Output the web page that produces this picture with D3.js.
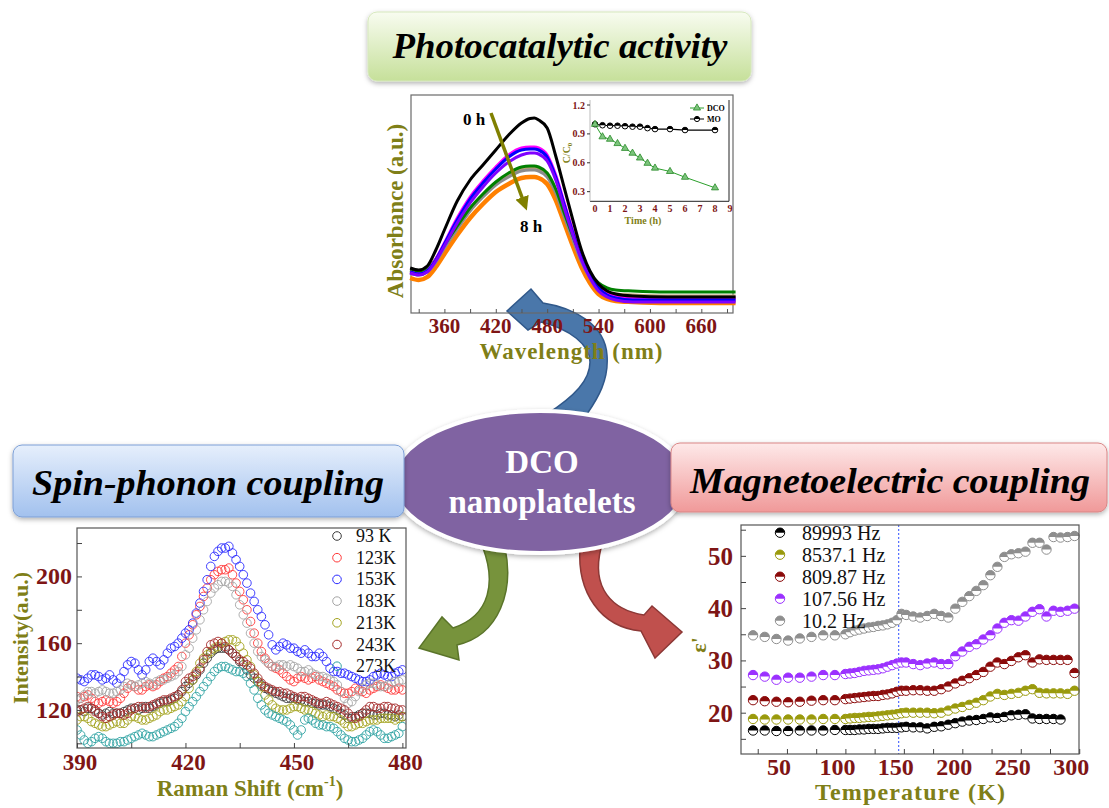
<!DOCTYPE html>
<html>
<head>
<meta charset="utf-8">
<title>DCO nanoplatelets</title>
<script src="https://cdn.jsdelivr.net/npm/d3@7/dist/d3.min.js"></script>
<style>
  body { margin: 0; background: #ffffff; }
  svg { display: block; font-family: "Liberation Serif", "Times New Roman", serif; }
</style>
</head>
<body>
<div id="figure"></div>
<script>
// ---------- photocatalytic activity: absorbance spectra ----------
var wavelength = [320,330,340,350,360,375,390,405,420,435,450,460,465,470,480,490,500,510,520,530,540,550,560,580,620,700];
var abs0h     = [0.45,0.43,0.47,0.63,0.83,1.12,1.33,1.48,1.63,1.78,1.90,1.945,1.95,1.93,1.85,1.57,1.25,0.93,0.63,0.42,0.29,0.22,0.19,0.17,0.16,0.16];
var absMagenta= [0.41,0.39,0.42,0.54,0.70,0.95,1.16,1.32,1.46,1.58,1.65,1.66,1.66,1.65,1.58,1.38,1.10,0.82,0.57,0.38,0.26,0.20,0.17,0.15,0.14,0.14];
var absBlue   = [0.41,0.39,0.42,0.53,0.69,0.93,1.14,1.30,1.44,1.56,1.63,1.64,1.64,1.63,1.56,1.36,1.08,0.80,0.55,0.37,0.25,0.18,0.15,0.13,0.13,0.13];
var absPurple = [0.40,0.38,0.41,0.52,0.67,0.90,1.10,1.26,1.40,1.51,1.58,1.60,1.60,1.59,1.52,1.33,1.05,0.78,0.53,0.35,0.22,0.16,0.13,0.11,0.11,0.11];
var absGreen  = [0.43,0.41,0.44,0.54,0.68,0.87,1.05,1.19,1.31,1.40,1.46,1.47,1.47,1.46,1.40,1.24,1.00,0.77,0.56,0.40,0.30,0.25,0.23,0.22,0.21,0.21];
var absTan    = [0.42,0.40,0.43,0.53,0.67,0.86,1.04,1.18,1.30,1.38,1.44,1.45,1.45,1.44,1.38,1.22,0.98,0.75,0.53,0.37,0.26,0.21,0.19,0.18,0.17,0.17];
var absGray   = [0.40,0.38,0.41,0.51,0.65,0.84,1.02,1.16,1.28,1.36,1.42,1.43,1.43,1.42,1.36,1.20,0.96,0.73,0.51,0.35,0.24,0.19,0.17,0.16,0.15,0.15];
var absOrange = [0.35,0.33,0.36,0.46,0.59,0.78,0.95,1.09,1.21,1.29,1.35,1.36,1.36,1.35,1.29,1.13,0.90,0.67,0.46,0.30,0.19,0.14,0.12,0.11,0.10,0.10];
var absTicks = [330,360,390,420,450,480,510,540,570,600,630,660,690];
var absTickLabels = [360,420,480,540,600,660];

// inset: C/C0 against time
var timeH = [0,0.5,1,1.5,2,2.5,3,3.5,4,5,6,8];
var ratioDCO = [1.0,0.87,0.845,0.80,0.75,0.70,0.65,0.595,0.545,0.51,0.45,0.34];
var ratioMO  = [1.0,0.99,0.985,0.985,0.98,0.975,0.975,0.96,0.95,0.95,0.94,0.94];
var insetTimeTicks = [0,1,2,3,4,5,6,7,8,9];
var insetRatioTicks = [0.3,0.6,0.9,1.2];

// ---------- spin-phonon coupling: Raman spectra ----------
var ramanShift = [390,391,392,393,394,395,396,397,398,399,400,401,402,403,404,405,406,407,408,409,
                  410,411,412,413,414,415,416,417,418,419,420,421,422,423,424,425,426,427,428,429,
                  430,431,432,433,434,435,436,437,438,439,440,441,442,443,444,445,446,447,448,449,
                  450,451,452,453,454,455,456,457,458,459,460,461,462,463,464,465,466,467,468,469,
                  470,471,472,473,474,475,476,477,478,479,480];
var raman93K  = [120,120,119,121,121,120,118,117,118,119, 118,118,118,119,120,121,121,120,121,122,
                 121,122,123,124,125,125,126,127,129,131, 134,136,138,141,144,148,151,154,156,157,
                 157,157,156,154,152,149,147,144,141,139, 137,135,133,132,131,130,129,128,127,127,
                 127,126,126,125,125,124,124,123,123,123, 122,121,120,118,117,115,115,116,117,118,
                 118,118,117,117,118,118,117,117,116,117, 116];
var raman123K = [128,127,128,129,127,125,124,125,126,125, 124,125,127,130,133,135,134,132,132,134,
                 135,134,135,137,139,140,142,144,146,152, 160,165,171,177,182,188,193,198,201,203,
                 204,204,205,201,196,191,186,180,173,166, 160,155,151,148,146,145,144,142,140,138,
                 137,139,140,139,138,139,140,138,137,136, 135,134,132,131,130,130,131,133,132,131,
                 130,132,133,134,135,134,133,132,132,133, 132];
var raman153K = [139,138,137,139,141,141,140,138,139,141, 138,136,139,143,147,149,148,144,141,144,
                 149,151,149,147,150,154,157,158,160,163, 166,168,172,178,184,191,198,206,212,215,
                 217,217,218,214,210,206,201,196,190,185, 180,176,171,165,159,156,158,160,159,157,
                 157,155,154,156,154,152,152,154,152,149, 145,143,143,142,142,141,140,139,138,137,
                 137,138,140,141,142,141,140,140,142,143, 144];
var raman183K = [126,127,129,131,131,130,131,132,131,130, 130,131,132,134,136,135,134,135,136,137,
                 136,135,137,138,138,139,140,141,143,146, 153,157,163,168,174,180,185,190,193,195,
                 197,197,196,194,189,183,177,172,166,160, 155,152,150,148,146,146,147,147,146,147,
                 146,145,143,143,144,142,141,140,140,139, 138,137,135,131,127,124,125,128,131,133,
                 135,136,136,135,134,134,135,136,137,137, 138];
var raman213K = [114,116,116,115,113,112,111,110,110,111, 112,113,112,112,114,116,116,115,114,114,
                 115,116,117,119,120,120,121,122,123,125, 128,133,138,143,148,151,153,155,157,158,
                 160,161,162,162,161,158,154,150,146,141, 137,134,129,126,123,121,120,120,120,121,
                 122,122,121,120,120,119,118,117,116,117, 116,116,115,114,112,110,110,111,112,112,
                 113,114,114,114,115,115,115,115,114,115, 116];
var raman243K = [119,120,121,122,121,119,118,116,115,116, 117,118,118,117,118,120,121,122,122,121,
                 122,123,124,125,126,126,127,128,129,132, 137,139,140,142,145,150,155,159,160,161,
                 160,158,156,154,152,150,149,147,145,142, 139,136,134,133,132,131,131,130,130,129,
                 128,127,128,128,127,126,125,124,124,125, 124,123,122,121,120,118,116,115,116,118,
                 120,122,122,121,121,122,122,121,121,120, 120];
var raman273K = [108,105,102,100,101,103,104,103,101,100, 100,100,101,101,102,103,104,105,106,105,
                 104,104,105,106,107,108,109,110,112,115, 119,122,125,128,131,134,137,140,143,145,
                 146,146,145,144,143,143,142,140,136,132, 127,123,120,118,117,116,115,114,113,111,
                 108,105,108,114,115,114,112,111,111,110, 110,109,107,105,103,102,101,101,102,103,
                 105,107,108,107,105,103,103,104,105,106, 110];
var ramanLabels = ["93 K","123K","153K","183K","213K","243K","273K"];
var ramanTicks = [390,405,420,435,450,465,480];
var ramanTickLabels = [390,420,450,480];
var intensityTicks = [100,120,140,160,180,200,220];
var intensityTickLabels = [120,160,200];

// ---------- magnetoelectric coupling: dielectric constant ----------
var tempK = [21,31,41,51,61,71,81,91,100,104,108,112,116,120,124,128,132,136,140,144,148,152,158,164,170,176,182,188,194,200,206,212,218,224,230,236,242,248,254,260,266,272,278,284,290,296];
var eps89993 = [16.6,16.6,16.5,16.5,16.6,16.6,16.6,16.7,16.7,16.7,16.7,16.8,16.8,16.9,16.9,16.9,17.0,17.1,17.1,17.1,17.2,17.3,17.2,17.2,17.0,17.3,17.4,17.7,18.0,18.3,18.5,18.6,18.8,19.1,19.0,19.2,19.5,19.6,19.7,18.9,18.8,18.8,18.8,18.7,null,null];
var eps8537  = [18.8,18.7,18.7,18.7,18.7,18.7,18.8,18.8,18.8,18.9,19.0,19.0,19.1,19.2,19.2,19.3,19.4,19.5,19.6,19.7,19.9,20.0,20.0,20.0,20.0,19.9,20.0,20.4,20.8,21.1,21.5,21.9,22.4,23.1,23.6,23.4,23.6,23.8,24.2,24.5,23.8,23.7,23.7,23.7,23.6,24.2];
var eps809   = [22.4,22.2,22.1,22.0,22.1,22.3,22.4,22.4,22.6,22.7,22.8,22.9,23.0,23.1,23.2,23.2,23.4,23.5,23.7,24.0,24.2,24.2,24.3,24.3,24.2,24.2,24.5,25.0,25.6,26.1,26.6,27.2,27.8,28.8,29.6,29.3,29.9,30.6,31.0,29.6,30.2,30.1,30.1,30.1,30.1,27.6];
var eps107   = [27.2,26.9,26.3,26.7,26.7,26.9,27.2,27.2,27.4,27.5,27.6,27.8,28.0,28.1,28.2,28.3,28.5,28.8,29.1,29.4,29.6,29.6,29.3,29.1,29.4,29.6,29.3,29.3,30.8,31.7,32.6,33.1,34.0,34.8,36.1,37.2,37.7,37.6,38.4,39.3,39.8,38.4,39.5,39.3,39.5,39.9];
var eps10    = [34.8,34.5,34.1,33.8,34.2,34.5,34.8,34.8,35.0,35.4,35.7,35.9,36.1,36.3,36.4,36.6,36.7,36.9,37.2,37.7,38.9,38.7,38.4,38.2,38.5,38.9,38.5,38.2,39.9,41.2,42.3,43.3,44.4,46.3,47.9,49.8,50.3,50.5,50.8,52.5,52.5,51.2,53.6,53.5,53.6,53.8];
var freqLabels = ["89993 Hz","8537.1 Hz","809.87 Hz","107.56 Hz","10.2 Hz"];
var transitionK = 145.6;
var tempTicks = [25,50,75,100,125,150,175,200,225,250,275,300];
var tempTickLabels = [50,100,150,200,250,300];
var epsTicks = [15,20,25,30,35,40,45,50,55];
var epsTickLabels = [20,30,40,50];

// ---------------------------------------------------------------
var red = "#7e1515", olive = "#7f7f18";

var svg = d3.select("#figure").append("svg")
    .attr("width", 1109).attr("height", 808)
    .attr("viewBox", "0 0 1109 808");
var defs = svg.append("defs");

function addGradient(id, top, bottom) {
    var g = defs.append("linearGradient").attr("id", id)
        .attr("x1", 0).attr("y1", 0).attr("x2", 0).attr("y2", 1);
    g.append("stop").attr("offset", "0%").attr("stop-color", top);
    g.append("stop").attr("offset", "100%").attr("stop-color", bottom);
}
addGradient("greenBox", "#f8fcf0", "#c6e09a");
addGradient("blueBox", "#e6effc", "#a2c1ee");
addGradient("redBox", "#fee9e9", "#f09999");

var shadow = defs.append("filter").attr("id", "shadow")
    .attr("x", "-10%").attr("y", "-20%").attr("width", "120%").attr("height", "150%");
shadow.append("feDropShadow").attr("dx", 0).attr("dy", 2).attr("stdDeviation", 2.5)
    .attr("flood-color", "#000").attr("flood-opacity", 0.3);

// curved arrows (behind everything)
var arrows = svg.append("g");
arrows.append("path")
    .attr("d", "M543,303 C575,308 605,325 607,355 C609,380 598,398 587,414 L547,414 C575,396 590,380 590,362 C590,345 570,329 541,322 L528,330 L507,311 L531,289 Z")
    .attr("fill", "#4a77aa").attr("stroke", "#30588a").attr("stroke-width", 1.5);
arrows.append("path")
    .attr("d", "M483,548 C495,580 492,615 453,628 L442,617 L419,648 L459,660 L457,645 C500,635 514,590 505,548 Z")
    .attr("fill", "#77933c").attr("stroke", "#5a7429").attr("stroke-width", 1.5);
arrows.append("path")
    .attr("d", "M580,548 C577,592 600,627 641,631 L655,658 L682,632 L652,606 L644,615 C612,610 591,588 601,548 Z")
    .attr("fill", "#c0504d").attr("stroke", "#8c3836").attr("stroke-width", 1.5);

// centre ellipse
svg.append("ellipse")
    .attr("cx", 540).attr("cy", 482).attr("rx", 147).attr("ry", 71)
    .attr("fill", "#8064a2").attr("stroke", "#ffffff").attr("stroke-width", 4)
    .attr("filter", "url(#shadow)");
svg.append("text").attr("x", 542).attr("y", 473).attr("text-anchor", "middle")
    .attr("fill", "#ffffff").attr("font-weight", "bold").attr("font-size", 33).text("DCO");
svg.append("text").attr("x", 542).attr("y", 513).attr("text-anchor", "middle")
    .attr("fill", "#ffffff").attr("font-weight", "bold").attr("font-size", 33).text("nanoplatelets");

// title boxes
function titleBox(x, y, w, h, fill, stroke, label, tx, ty, len) {
    svg.append("rect").attr("x", x).attr("y", y).attr("width", w).attr("height", h)
        .attr("rx", 9).attr("ry", 9)
        .attr("fill", fill).attr("stroke", stroke).attr("stroke-width", 1)
        .attr("filter", "url(#shadow)");
    svg.append("text").attr("x", tx).attr("y", ty).attr("text-anchor", "middle")
        .attr("font-weight", "bold").attr("font-style", "italic").attr("font-size", 35)
        .attr("textLength", len).attr("lengthAdjust", "spacingAndGlyphs")
        .attr("fill", "#000").text(label);
}
titleBox(368, 12, 383, 69, "url(#greenBox)", "#d6e8bd", "Photocatalytic activity", 560, 58, 335);
titleBox(13, 445, 391, 72, "url(#blueBox)", "#7c9fd6", "Spin-phonon coupling", 208, 495, 352);
titleBox(671, 443, 436, 69, "url(#redBox)", "#d98585", "Magnetoelectric coupling", 890, 493, 400);

// ---------- top chart ----------
var ax = d3.scaleLinear().domain([321, 697]).range([411, 733]);
var ay = d3.scaleLinear().domain([0, 2.18]).range([313, 95]);
var gTop = svg.append("g");

gTop.append("rect").attr("x", 411).attr("y", 95).attr("width", 322).attr("height", 218)
    .attr("fill", "none").attr("stroke", "#6a6a6a").attr("stroke-width", 1.2);

var spectra = [absOrange, absTan, absGray, absGreen, absMagenta, absBlue, absPurple, abs0h];
var spectraColors = ["#ff8000", "#c0a070", "#8c8c8c", "#008000", "#ff00ff", "#0000ff", "#8000ff", "#000000"];
var spectraWidth = [4.5, 3, 3, 3, 3, 3, 3, 3];
var specLine = d3.line()
    .x(function(d, i){ return ax(wavelength[i]); })
    .y(function(d){ return ay(d); })
    .curve(d3.curveMonotoneX);
gTop.selectAll(".spec").data(spectra).enter().append("path")
    .attr("class", "spec")
    .attr("d", specLine)
    .attr("fill", "none")
    .attr("stroke", function(d, i){ return spectraColors[i]; })
    .attr("stroke-width", function(d, i){ return spectraWidth[i]; });

gTop.append("g").attr("transform", "translate(0,313)")
    .call(d3.axisBottom(ax).tickValues(absTicks).tickSize(-4).tickFormat(""))
    .call(function(g){ g.select(".domain").remove(); g.selectAll("line").attr("stroke", "#555"); });
gTop.selectAll(".absLab").data(absTickLabels).enter().append("text")
    .attr("x", function(d){ return ax(d); }).attr("y", 333)
    .attr("text-anchor", "middle").attr("font-size", 21).attr("font-weight", "bold")
    .attr("fill", red).text(function(d){ return d; });
gTop.append("text").attr("x", 571).attr("y", 359).attr("text-anchor", "middle")
    .attr("font-size", 23).attr("font-weight", "bold").attr("fill", olive)
    .attr("textLength", 183).attr("lengthAdjust", "spacing").text("Wavelength (nm)");
gTop.append("text").attr("transform", "translate(403,211) rotate(-90)")
    .attr("text-anchor", "middle").attr("font-size", 23).attr("font-weight", "bold")
    .attr("fill", olive).text("Absorbance (a.u.)");

// time arrow
defs.append("marker").attr("id", "headOlive").attr("viewBox", "0 0 10 10")
    .attr("refX", 2).attr("refY", 5).attr("markerWidth", 4).attr("markerHeight", 4)
    .attr("orient", "auto")
    .append("path").attr("d", "M0,0 L10,5 L0,10 Z").attr("fill", "#808000");
gTop.append("line").attr("x1", 491).attr("y1", 113).attr("x2", 523).attr("y2", 200)
    .attr("stroke", "#808000").attr("stroke-width", 3.5).attr("marker-end", "url(#headOlive)");
gTop.append("text").attr("x", 463).attr("y", 125).attr("font-size", 17).attr("font-weight", "bold").text("0 h");
gTop.append("text").attr("x", 520).attr("y", 232).attr("font-size", 17).attr("font-weight", "bold").text("8 h");

// inset
var ix = d3.scaleLinear().domain([-0.333, 8.933]).range([590, 729]);
var iy = d3.scaleLinear().domain([0.2, 1.25]).range([201.3, 100.2]);
var gIn = svg.append("g");
gIn.append("line").attr("x1", 590).attr("x2", 729).attr("y1", 201.3).attr("y2", 201.3).attr("stroke", "#222");
gIn.append("line").attr("x1", 729).attr("x2", 729).attr("y1", 100).attr("y2", 201.3).attr("stroke", "#222");
gIn.append("line").attr("x1", 590).attr("x2", 590).attr("y1", 100).attr("y2", 201.3).attr("stroke", "#bbb");
gIn.selectAll(".iyt").data(insetRatioTicks).enter().append("line")
    .attr("x1", 587).attr("x2", 590)
    .attr("y1", function(d){ return iy(d); }).attr("y2", function(d){ return iy(d); })
    .attr("stroke", "#333");
gIn.selectAll(".iyl").data(insetRatioTicks).enter().append("text")
    .attr("x", 585).attr("y", function(d){ return iy(d) + 3.5; })
    .attr("text-anchor", "end").attr("font-size", 10).attr("font-weight", "bold")
    .attr("fill", red).text(function(d){ return d.toFixed(1); });
gIn.selectAll(".ixl").data(insetTimeTicks).enter().append("text")
    .attr("x", function(d){ return ix(d); }).attr("y", 212)
    .attr("text-anchor", "middle").attr("font-size", 10).attr("font-weight", "bold")
    .attr("fill", red).text(function(d){ return d; });
gIn.append("text").attr("x", 643).attr("y", 224).attr("text-anchor", "middle")
    .attr("font-size", 10).attr("font-weight", "bold").attr("fill", olive).text("Time (h)");
var cLab = gIn.append("text").attr("transform", "translate(570,153) rotate(-90)")
    .attr("text-anchor", "middle").attr("font-size", 10).attr("font-weight", "bold").attr("fill", olive);
cLab.append("tspan").text("C/C");
cLab.append("tspan").attr("font-size", 7).attr("dy", 2).text("0");

var insetLine = d3.line()
    .x(function(d, i){ return ix(timeH[i]); })
    .y(function(d){ return iy(d); });
gIn.append("path").attr("d", insetLine(ratioMO)).attr("fill", "none").attr("stroke", "#000").attr("stroke-width", 1.2);
gIn.append("path").attr("d", insetLine(ratioDCO)).attr("fill", "none").attr("stroke", "#2ca02c").attr("stroke-width", 1);

function halfDot(sel, r, color) {
    sel.append("circle").attr("r", r).attr("fill", "#fff").attr("stroke", color).attr("stroke-width", 1);
    sel.append("path").attr("d", "M" + (-r) + ",0 A" + r + "," + r + " 0 0 1 " + r + ",0 Z").attr("fill", color);
}
var triangle = d3.symbol().type(d3.symbolTriangle).size(22);
gIn.selectAll(".mo").data(ratioMO).enter().append("g")
    .attr("transform", function(d, i){ return "translate(" + ix(timeH[i]) + "," + iy(d) + ")"; })
    .each(function(){ halfDot(d3.select(this), 2.8, "#000"); });
gIn.selectAll(".dco").data(ratioDCO).enter().append("path")
    .attr("d", triangle)
    .attr("transform", function(d, i){ return "translate(" + ix(timeH[i]) + "," + iy(d) + ")"; })
    .attr("fill", "#7cc47c").attr("stroke", "#2a8a2a").attr("stroke-width", 0.8);
// inset legend
gIn.append("line").attr("x1", 690).attr("x2", 704).attr("y1", 108).attr("y2", 108).attr("stroke", "#2ca02c");
gIn.append("path").attr("d", triangle).attr("transform", "translate(697,108)")
    .attr("fill", "#7cc47c").attr("stroke", "#2a8a2a").attr("stroke-width", 0.8);
gIn.append("line").attr("x1", 690).attr("x2", 704).attr("y1", 119).attr("y2", 119).attr("stroke", "#000");
halfDot(gIn.append("g").attr("transform", "translate(697,119)"), 2.6, "#000");
gIn.append("text").attr("x", 707).attr("y", 111).attr("font-size", 8).attr("font-weight", "bold").text("DCO");
gIn.append("text").attr("x", 707).attr("y", 122).attr("font-size", 8).attr("font-weight", "bold").text("MO");

// ---------- Raman chart ----------
var rx = d3.scaleLinear().domain([390, 481]).range([77, 406]);
var ry = d3.scaleLinear().domain([97.2, 229]).range([748, 528]);
var gR = svg.append("g");
defs.append("clipPath").attr("id", "ramanClip").append("rect")
    .attr("x", 77).attr("y", 528).attr("width", 329).attr("height", 220);

var ramanSeries = [raman93K, raman123K, raman153K, raman183K, raman213K, raman243K, raman273K];
var ramanColors = ["#3a3a3a", "#ff3a3a", "#2a2aff", "#a5a5a5", "#a3a31e", "#a52a2a", "#2fa3a3"];
var gRd = gR.append("g").attr("clip-path", "url(#ramanClip)");
ramanSeries.forEach(function(series, k){
    gRd.selectAll(".r" + k).data(series).enter().append("circle")
        .attr("cx", function(d, i){ return rx(ramanShift[i]); })
        .attr("cy", function(d){ return ry(d); })
        .attr("r", 4.3)
        .attr("fill", "none")
        .attr("stroke", ramanColors[k])
        .attr("stroke-width", 0.9);
});
gR.append("rect").attr("x", 77).attr("y", 528).attr("width", 329).attr("height", 220)
    .attr("fill", "none").attr("stroke", "#555").attr("stroke-width", 1.2);
gR.append("g").attr("transform", "translate(0,748)")
    .call(d3.axisBottom(rx).tickValues(ramanTicks).tickSize(-5).tickFormat(""))
    .call(function(g){ g.select(".domain").remove(); g.selectAll("line").attr("stroke", "#444"); });
gR.append("g").attr("transform", "translate(77,0)")
    .call(d3.axisLeft(ry).tickValues(intensityTicks).tickSize(-5).tickFormat(""))
    .call(function(g){ g.select(".domain").remove(); g.selectAll("line").attr("stroke", "#444"); });
gR.selectAll(".rxl").data(ramanTickLabels).enter().append("text")
    .attr("x", function(d){ return rx(d) + 3; }).attr("y", 770)
    .attr("text-anchor", "middle").attr("font-size", 23).attr("font-weight", "bold")
    .attr("fill", red).text(function(d){ return d; });
gR.selectAll(".ryl").data(intensityTickLabels).enter().append("text")
    .attr("x", 72).attr("y", function(d){ return ry(d) + 8; })
    .attr("text-anchor", "end").attr("font-size", 24).attr("font-weight", "bold")
    .attr("fill", red).text(function(d){ return d; });
var rTitle = gR.append("text").attr("x", 250).attr("y", 796).attr("text-anchor", "middle")
    .attr("font-size", 23).attr("font-weight", "bold").attr("fill", olive);
rTitle.append("tspan").text("Raman Shift (cm");
rTitle.append("tspan").attr("font-size", 14).attr("dy", -10).text("-1");
rTitle.append("tspan").attr("dy", 10).text(")");
gR.append("text").attr("transform", "translate(28,638) rotate(-90)")
    .attr("text-anchor", "middle").attr("font-size", 22).attr("font-weight", "bold")
    .attr("fill", olive).text("Intensity(a.u.)");
// legend
var rLeg = gR.selectAll(".rleg").data(ramanLabels).enter().append("g")
    .attr("transform", function(d, i){ return "translate(337," + (536 + i * 21.7) + ")"; });
rLeg.append("circle").attr("r", 4.3).attr("fill", "none")
    .attr("stroke", function(d, i){ return ramanColors[i]; });
rLeg.append("text").attr("x", 19).attr("y", 6).attr("font-size", 18).attr("fill", "#111")
    .text(function(d){ return d; });

// ---------- dielectric chart ----------
var dx = d3.scaleLinear().domain([10.7, 299.8]).range([741, 1079]);
var dy = d3.scaleLinear().domain([12.1, 55.9]).range([754, 525]);
var gD = svg.append("g");
gD.append("line").attr("x1", dx(transitionK)).attr("x2", dx(transitionK)).attr("y1", 525).attr("y2", 754)
    .attr("stroke", "#2f4fff").attr("stroke-width", 1).attr("stroke-dasharray", "2,2");

var epsSeries = [eps89993, eps8537, eps809, eps107, eps10];
var epsColors = ["#000000", "#9a9a0c", "#8b0a0a", "#9b30ff", "#8e8e8e"];
epsSeries.forEach(function(series, k){
    gD.selectAll(".e" + k).data(series.filter(function(v){ return v !== null; })).enter().append("g")
        .attr("transform", function(d, i){ return "translate(" + dx(tempK[i]) + "," + dy(d) + ")"; })
        .each(function(){ halfDot(d3.select(this), 4.7, epsColors[k]); });
});
gD.append("rect").attr("x", 741).attr("y", 525).attr("width", 338).attr("height", 229)
    .attr("fill", "none").attr("stroke", "#555").attr("stroke-width", 1.2);
gD.append("g").attr("transform", "translate(0,754)")
    .call(d3.axisBottom(dx).tickValues(tempTicks).tickSize(-5).tickFormat(""))
    .call(function(g){ g.select(".domain").remove(); g.selectAll("line").attr("stroke", "#444"); });
gD.append("g").attr("transform", "translate(741,0)")
    .call(d3.axisLeft(dy).tickValues(epsTicks).tickSize(-5).tickFormat(""))
    .call(function(g){ g.select(".domain").remove(); g.selectAll("line").attr("stroke", "#444"); });
gD.selectAll(".dxl").data(tempTickLabels).enter().append("text")
    .attr("x", function(d){ return dx(d) - 8; }).attr("y", 775)
    .attr("text-anchor", "middle").attr("font-size", 24).attr("font-weight", "bold")
    .attr("fill", red).text(function(d){ return d; });
gD.selectAll(".dyl").data(epsTickLabels).enter().append("text")
    .attr("x", 733).attr("y", function(d){ return dy(d) + 9; })
    .attr("text-anchor", "end").attr("font-size", 25).attr("font-weight", "bold")
    .attr("fill", red).text(function(d){ return d; });
gD.append("text").attr("x", 910).attr("y", 800).attr("text-anchor", "middle")
    .attr("font-size", 24).attr("font-weight", "bold").attr("fill", olive)
    .attr("textLength", 190).attr("lengthAdjust", "spacing").text("Temperature (K)");
gD.append("text").attr("transform", "translate(706,645) rotate(-90)")
    .attr("text-anchor", "middle").attr("font-size", 22).attr("font-weight", "bold")
    .attr("fill", olive).text("\u03b5'");
// legend
var dLeg = gD.selectAll(".dleg").data(freqLabels).enter().append("g")
    .attr("transform", function(d, i){ return "translate(780," + (532.7 + i * 22) + ")"; });
dLeg.each(function(d, i){ halfDot(d3.select(this), 4.7, epsColors[i]); });
dLeg.append("text").attr("x", 22).attr("y", 7).attr("font-size", 20).attr("fill", "#111")
    .text(function(d){ return d; });
</script>
</body>
</html>
